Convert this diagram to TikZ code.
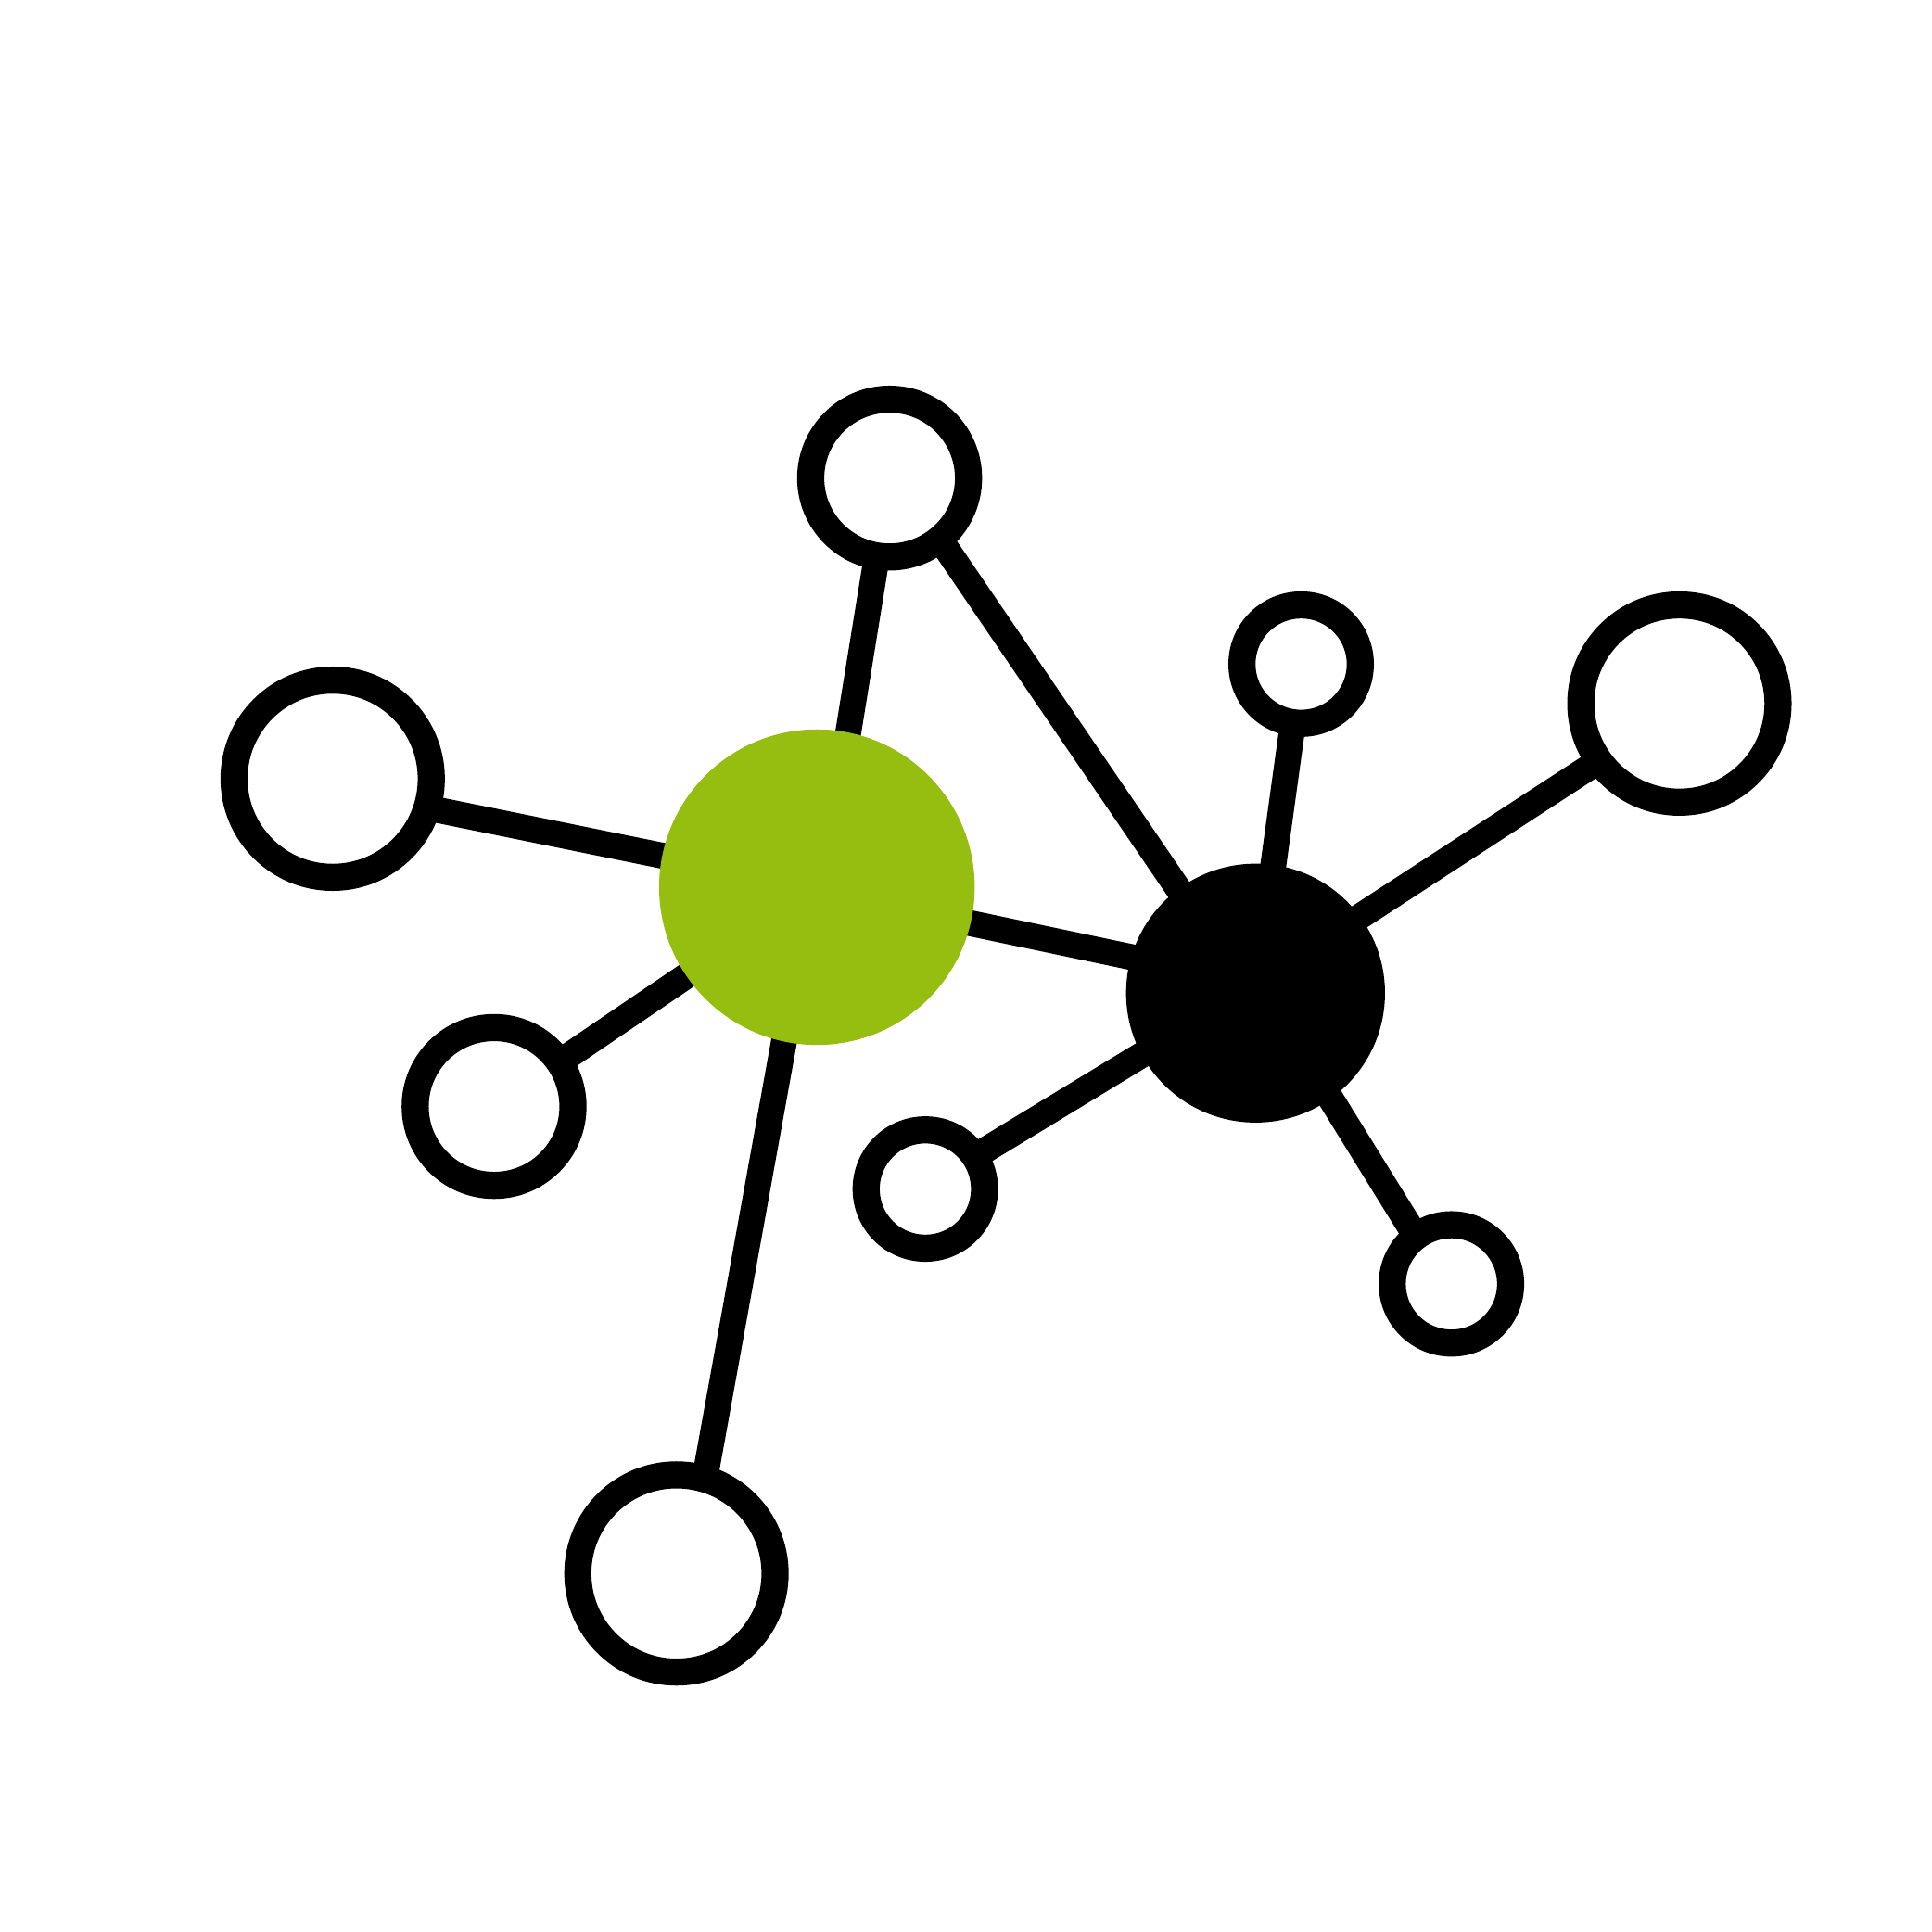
\documentclass[tikz,border=0pt]{standalone}
\usetikzlibrary{calc,backgrounds}
\definecolor{hubgreen}{RGB}{150,190,16}
\begin{document}
\begin{tikzpicture}[x=0.01cm, y=-0.01cm,
    hubnode/.style={circle, fill=hubgreen, minimum size=2.56cm, inner sep=0pt},
    corenode/.style={circle, fill=black, minimum size=2.10cm, inner sep=0pt},
    leaf/.style={circle, draw=black, fill=white, line width=0.22cm, inner sep=0pt},
    link/.style={line width=0.21cm}]
    \useasboundingbox (0,0) rectangle (1568,1568);

    % Draw the two hubs
    \node[hubnode] (hub) at (663,720) {};
    \node[corenode] (core) at (1019,806) {};

    % Draw the leaf nodes
    \node[leaf, minimum size=1.28cm] (top) at (722,388) {};
    \node[leaf, minimum size=1.60cm] (left) at (270,632) {};
    \node[leaf, minimum size=1.28cm] (lowleft) at (401,898) {};
    \node[leaf, minimum size=1.60cm] (bottom) at (549,1277) {};
    \node[leaf, minimum size=0.96cm] (upright) at (1056,539) {};
    \node[leaf, minimum size=1.60cm] (right) at (1363,571) {};
    \node[leaf, minimum size=0.96cm] (mid) at (751,965) {};
    \node[leaf, minimum size=0.96cm] (lowright) at (1178,1042) {};

    % Draw the links behind the nodes
    \begin{scope}[on background layer]
        \draw[link] ($(hub)+(5,0)$) -- (top.center);
        \draw[link] (hub.center) -- ($(left)+(0,8)$);
        \draw[link] (hub.center) -- (lowleft.center);
        \draw[link] ($(hub)+(-4,0)$) -- ($(bottom)+(9,0)$);
        \draw[link] ($(hub)+(0,3)$) -- ($(core)+(0,-8)$);
        \draw[link] ($(top)+(7,0)$) -- ($(core)+(-5,0)$);
        \draw[link] (core.center) -- (upright.center);
        \draw[link] ($(core)+(0,-7)$) -- ($(right)+(0,4)$);
        \draw[link] ($(core)+(0,-6)$) -- ($(mid)+(0,-2)$);
        \draw[link] ($(core)+(8,0)$) -- ($(lowright)+(-5,0)$);
    \end{scope}
\end{tikzpicture}
\end{document}
